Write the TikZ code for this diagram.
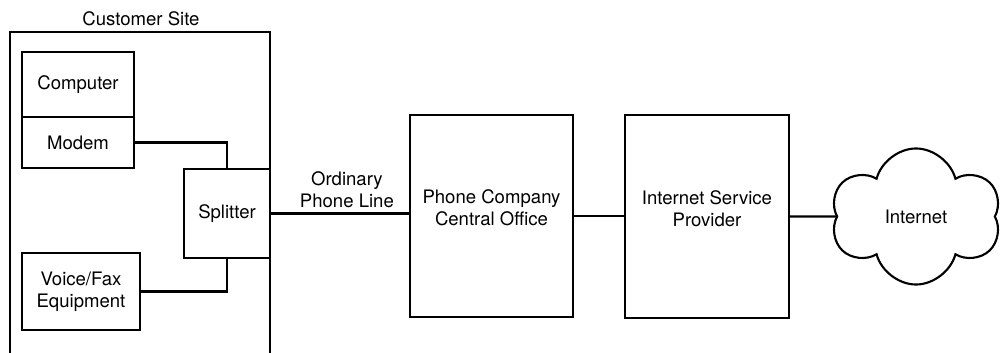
\documentclass[tikz,border=0pt]{standalone}
\usepackage{fontspec}
\setmainfont{TeX Gyre Heros}
\usepackage{tikz}
\usetikzlibrary{
	calc,
	positioning,
	shapes.symbols
}

\begin{document}
\begin{tikzpicture}[x=0.025cm, y=-0.025cm,
		font=\fontsize{13.2}{15.5}\selectfont,
		box/.style={draw, line width=1.5pt, inner sep=0pt, align=center},
		wire/.style={line width=1.5pt}]
	\useasboundingbox (0,0) rectangle (1002,353);

	% Kundenstandort, unten offen
	\draw[wire] (10,353) -- (10,32) -- (270,32) -- (270,353);
	\node (site) at (141,19) {Customer Site};

	% Geraete beim Kunden
	\node[box, minimum width=2.8cm, minimum height=1.625cm] (computer) at (78,84.5) {Computer};
	\node[box, minimum width=2.8cm, minimum height=1.275cm] (modem) at (78,142.5) {Modem};
	\node[box, minimum width=2.15cm, minimum height=2.225cm] (splitter) at (227,213.5) {Splitter};
	\node[box, minimum width=2.95cm, minimum height=1.925cm] (voice) at (81,291.5) {Voice/Fax\\Equipment};

	% Vermittlungsstelle und Provider
	\node[box, minimum width=4.075cm, minimum height=5.05cm,
		label={[align=center, yshift=0.2cm]center:{Phone Company\\Central Office}}] (office) at (491.5,216) {};
	\node[box, minimum width=4.1cm, minimum height=5.075cm,
		label={[align=center, yshift=0.2cm]center:{Internet Service\\Provider}}] (isp) at (707,216.5) {};

	% Internet-Wolke
	\node[box, cloud, cloud puffs=6, cloud puff arc=150, cloud ignores aspect,
		minimum width=4.25cm, minimum height=3.4cm] (internet) at (916,216.5) {Internet};

	% Leitungen
	\draw[wire] (modem.east) -| (splitter.north);
	\draw[wire] (voice.east) -| (splitter.south);
	\draw[wire] (splitter.east) -- (splitter.east -| office.west)
		node[pos=0.55, above, align=center] (line) {Ordinary\\Phone Line};
	\draw[wire] (office.east) -- (office.east -| isp.west);
	\draw[wire] (isp.east) -- (internet.west);
\end{tikzpicture}
\end{document}
